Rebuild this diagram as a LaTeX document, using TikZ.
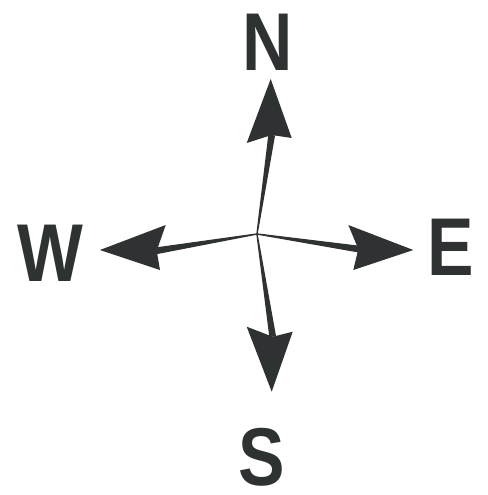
\documentclass[tikz,border=0pt]{standalone}
\usepackage{fontspec}
\setmainfont{Liberation Sans}
\usetikzlibrary{calc}
\definecolor{inkgray}{HTML}{2F3232}

\begin{document}
\begin{tikzpicture}[
  x=1pt, y=-1pt,
  letter/.style={font=\fontsize{82}{82}\selectfont\bfseries, text=inkgray,
    inner sep=0pt, xscale=0.85},
  head/.style={fill=inkgray},
  shaft/.style={fill=inkgray}
]
\useasboundingbox (0,0) rectangle (487,495);
% The centre of the rose.
\coordinate (O) at (257,234);
% Arrow heads: tip, two barbs and the notch where the shaft meets.
\coordinate (tipN) at (270.7,79);
\coordinate (leftN) at (246.7,143);
\coordinate (notchN) at (271.7,135);
\coordinate (rightN) at (291.7,138);
\coordinate (tipE) at (413.3,250);
\coordinate (leftE) at (348.3,225);
\coordinate (notchE) at (358.3,249);
\coordinate (rightE) at (353.3,270);
\coordinate (tipS) at (271.7,391.7);
\coordinate (leftS) at (246.7,326.7);
\coordinate (notchS) at (272.7,336.7);
\coordinate (rightS) at (292.7,331.7);
\coordinate (tipW) at (100,250);
\coordinate (leftW) at (165.7,225);
\coordinate (notchW) at (156.7,250.7);
\coordinate (rightW) at (160,270);
\foreach \d in {N,E,S,W} {
  \fill[shaft] ($(O)!0.7pt!90:(notch\d)$) -- ($(notch\d)!3.4pt!-90:(O)$)
    -- ($(notch\d)!3.4pt!90:(O)$) -- ($(O)!0.7pt!-90:(notch\d)$) -- cycle;
  \fill[head] (tip\d) -- (left\d) -- (notch\d) -- (right\d) -- cycle;
}

% Compass letters.
\node[letter] (labN) at (267.5,42) {N};
\node[letter] (labE) at (451,247) {E};
\node[letter] (labS) at (262,457) {S};
\node[letter] (labW) at (50.5,253) {W};
\end{tikzpicture}
\end{document}
